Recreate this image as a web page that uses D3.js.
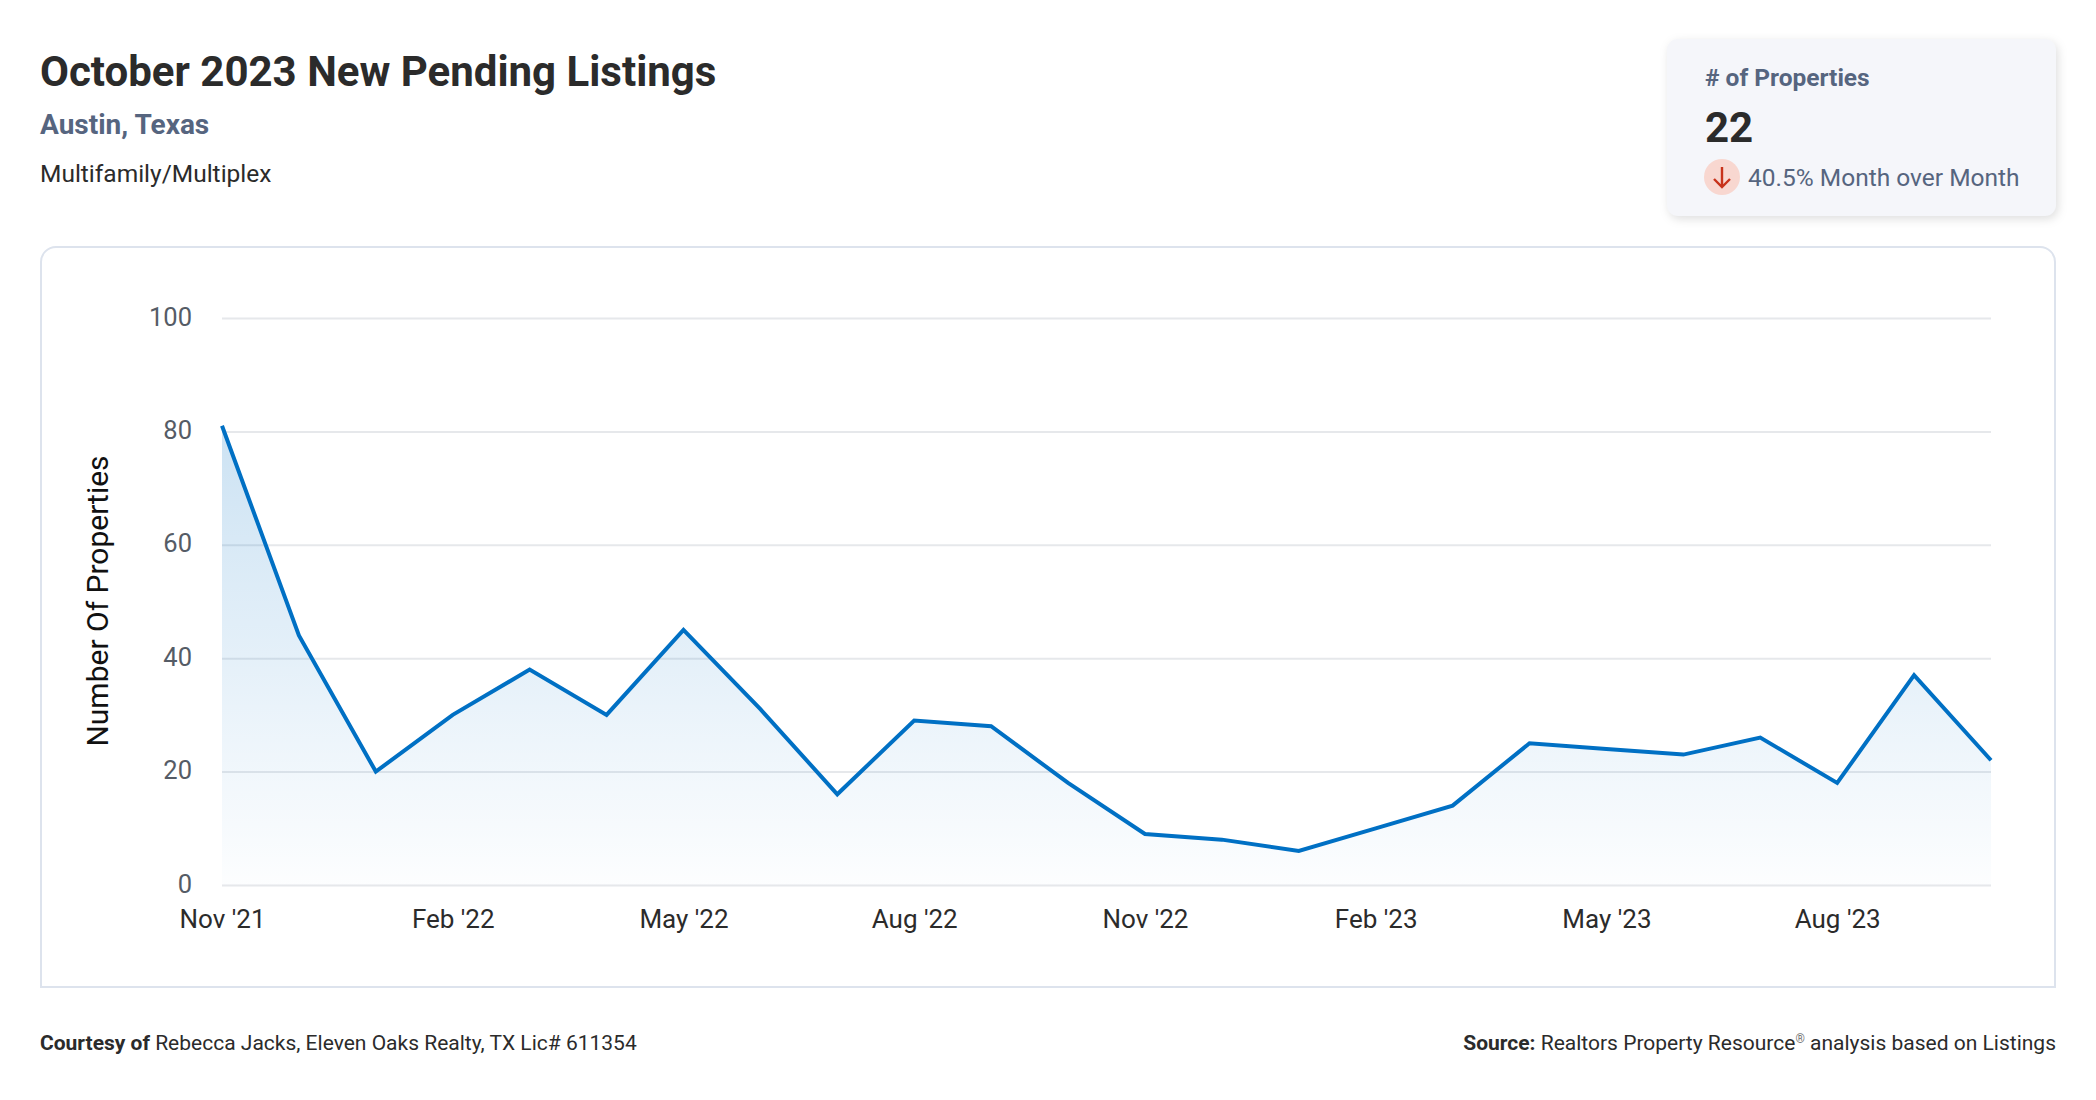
<!DOCTYPE html>
<html>
<head>
<meta charset="utf-8">
<script src="https://cdn.jsdelivr.net/npm/d3@7"></script>
<style>
  body { margin: 0; background: #fff; font-family: Roboto, sans-serif; }
  svg { display: block; }
  text { font-family: Roboto, sans-serif; }
  .grid .domain { display: none; }
  .grid line { stroke: #e6e8eb; stroke-width: 2; }
  .grid text { font-size: 25.5px; fill: #555c66; }
  .months .domain, .months line { display: none; }
  .months text { font-size: 26px; fill: #2b2b2b; }
</style>
</head>
<body>
<div id="chart"></div>
<script>
var width = 2096;
var height = 1100;

var months = ["Nov '21", "Dec '21", "Jan '22", "Feb '22", "Mar '22", "Apr '22", "May '22", "Jun '22",
  "Jul '22", "Aug '22", "Sep '22", "Oct '22", "Nov '22", "Dec '22", "Jan '23", "Feb '23",
  "Mar '23", "Apr '23", "May '23", "Jun '23", "Jul '23", "Aug '23", "Sep '23", "Oct '23"];
var listings = [81, 44, 20, 30, 38, 30, 45, 31, 16, 29, 28, 18, 9, 8, 6, 10, 14, 25, 24, 23, 26, 18, 37, 22];
var monthTicks = ["Nov '21", "Feb '22", "May '22", "Aug '22", "Nov '22", "Feb '23", "May '23", "Aug '23"];
var countTicks = [0, 20, 40, 60, 80, 100];

var svg = d3.select('#chart').append('svg')
  .attr('width', width)
  .attr('height', height);

// Headings
svg.append('text').attr('x', 40).attr('y', 86)
  .style('font-size', '42px').style('font-weight', 700).style('fill', '#2b2b2b')
  .text('October 2023 New Pending Listings');
svg.append('text').attr('x', 40).attr('y', 134)
  .style('font-size', '28px').style('font-weight', 700).style('fill', '#56657f')
  .text('Austin, Texas');
svg.append('text').attr('x', 40).attr('y', 182)
  .style('font-size', '24.5px').style('fill', '#2b2b2b')
  .text('Multifamily/Multiplex');

// Summary card
svg.append('rect').attr('x', 1667).attr('y', 39).attr('width', 389).attr('height', 177).attr('rx', 11)
  .style('fill', '#f5f6fa')
  .style('filter', 'drop-shadow(2px 3px 5px rgba(0,0,0,0.13))');
svg.append('text').attr('x', 1705).attr('y', 86)
  .style('font-size', '24.5px').style('font-weight', 700).style('fill', '#56657f')
  .text('# of Properties');
svg.append('text').attr('x', 1705).attr('y', 142)
  .style('font-size', '42px').style('font-weight', 700).style('fill', '#2b2b2b')
  .text('22');
svg.append('circle').attr('cx', 1722).attr('cy', 177).attr('r', 18).style('fill', '#f8d7d0');
svg.append('path').attr('d', 'M1722,167V187M1714,179L1722,187L1730,179')
  .style('fill', 'none').style('stroke', '#c8321a').style('stroke-width', 2.4);
svg.append('text').attr('x', 1748).attr('y', 186)
  .style('font-size', '24.5px').style('fill', '#56657f')
  .text('40.5% Month over Month');

// Chart frame, rounded on top only
svg.append('path').attr('d', 'M41,987V262A15,15 0 0 1 56,247H2040A15,15 0 0 1 2055,262V987Z')
  .style('fill', '#fff').style('stroke', '#dde3ed').style('stroke-width', 2);

// Scales
var xScale = d3.scalePoint().domain(months).range([222, 1991]);
var yScale = d3.scaleLinear().domain([0, 100]).range([885, 318]);

// Area gradient
var gradient = svg.append('defs').append('linearGradient')
  .attr('id', 'areaFill')
  .attr('gradientUnits', 'userSpaceOnUse')
  .attr('x1', 0).attr('x2', 0)
  .attr('y1', yScale(81)).attr('y2', yScale(0));
gradient.append('stop').attr('offset', 0).attr('stop-color', '#0070c4').attr('stop-opacity', 0.2);
gradient.append('stop').attr('offset', 1).attr('stop-color', '#0070c4').attr('stop-opacity', 0.01);

// Y axis with gridlines
var yAxis = d3.axisLeft(yScale)
  .tickValues(countTicks)
  .tickSize(-1769)
  .tickPadding(30);

svg.append('g')
  .attr('class', 'grid')
  .attr('transform', 'translate(222, 0)')
  .call(yAxis)
  .selectAll('text')
  .attr('dy', '0.28em');

// X axis labels
var xAxis = d3.axisBottom(xScale)
  .tickValues(monthTicks)
  .tickSize(0)
  .tickPadding(26);

svg.append('g')
  .attr('class', 'months')
  .attr('transform', 'translate(0, 884)')
  .call(xAxis);

// Axis title
svg.append('text')
  .attr('transform', 'rotate(-90)')
  .attr('x', -601)
  .attr('y', 108)
  .attr('text-anchor', 'middle')
  .style('font-size', '30px')
  .style('fill', '#111')
  .text('Number Of Properties');

// Area and line
var area = d3.area()
  .x(function (d, i) { return xScale(months[i]); })
  .y0(yScale(0))
  .y1(function (d) { return yScale(d); });

var line = d3.line()
  .x(function (d, i) { return xScale(months[i]); })
  .y(function (d) { return yScale(d); });

svg.append('path').datum(listings)
  .attr('d', area)
  .style('fill', 'url(#areaFill)');

svg.append('path').datum(listings)
  .attr('d', line)
  .style('fill', 'none')
  .style('stroke', '#0070c4')
  .style('stroke-width', 4);

// Footer
var courtesy = svg.append('text').attr('x', 40).attr('y', 1050)
  .style('font-size', '21px').style('fill', '#2b2b2b');
courtesy.append('tspan').style('font-weight', 700).text('Courtesy of ');
courtesy.append('tspan').text('Rebecca Jacks, Eleven Oaks Realty, TX Lic# 611354');

var source = svg.append('text').attr('x', 2056).attr('y', 1050)
  .attr('text-anchor', 'end')
  .style('font-size', '21px').style('fill', '#2b2b2b');
source.append('tspan').style('font-weight', 700).text('Source: ');
source.append('tspan').text('Realtors Property Resource');
source.append('tspan').attr('dy', -7).style('font-size', '12px').style('fill', '#777').text('®');
source.append('tspan').attr('dy', 7).text(' analysis based on Listings');
</script>
</body>
</html>
